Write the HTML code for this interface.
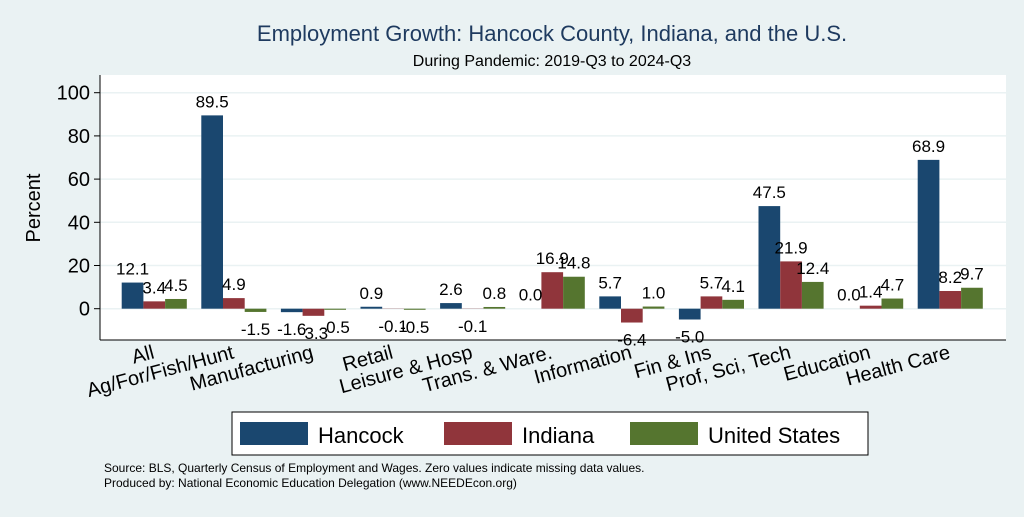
<!DOCTYPE html>
<html><head><meta charset="utf-8"><style>
body{margin:0;background:#eaf2f3;font-family:"Liberation Sans",sans-serif}
svg text{font-family:"Liberation Sans",sans-serif}
</style></head><body>
<svg id="c" width="1024" height="512" xmlns="http://www.w3.org/2000/svg">
<rect width="1024" height="512" fill="#eaf2f3"/>
<text x="552" y="41" font-size="22" fill="#1e3a5f" text-anchor="middle">Employment Growth: Hancock County, Indiana, and the U.S.</text>
<text x="552" y="66" font-size="16" fill="#000" text-anchor="middle">During Pandemic: 2019-Q3 to 2024-Q3</text>
<rect x="100" y="75" width="906" height="265" fill="#fff"/>
<g id="grid"></g><g id="bars"></g><g id="labels"></g><g id="axes"></g>
<text transform="translate(40,208) rotate(-90)" font-size="20" text-anchor="middle">Percent</text>
<g>
<rect x="232" y="412" width="636" height="43" fill="#fff" stroke="#000" stroke-width="1"/>
<rect x="240" y="422" width="68" height="23" fill="#1a476f"/>
<text x="318" y="443" font-size="22">Hancock</text>
<rect x="444" y="422" width="68" height="23" fill="#90353b"/>
<text x="522" y="443" font-size="22">Indiana</text>
<rect x="630" y="422" width="68" height="23" fill="#55752f"/>
<text x="708" y="443" font-size="22">United States</text>
</g>
<text x="104" y="472" font-size="12">Source: BLS, Quarterly Census of Employment and Wages. Zero values indicate missing data values.</text>
<text x="104" y="487" font-size="12">Produced by: National Economic Education Delegation (www.NEEDEcon.org)</text>
</svg>
<script>
const categories=["All","Ag/For/Fish/Hunt","Manufacturing","Retail","Leisure & Hosp","Trans. & Ware.","Information","Fin & Ins","Prof, Sci, Tech","Education","Health Care"];
const hancock=[12.1,89.5,-1.6,0.9,2.6,0.0,5.7,-5.0,47.5,0.0,68.9];
const indiana=[3.4,4.9,-3.3,-0.1,-0.1,16.9,-6.4,5.7,21.9,1.4,8.2];
const unitedStates=[4.5,-1.5,-0.5,-0.5,0.8,14.8,1.0,4.1,12.4,4.7,9.7];
const yTicks=[0,20,40,60,80,100];
const NS="http://www.w3.org/2000/svg";
const y=v=>308.7-v*2.16;
const gx=i=>121.7+i*79.6;
const bw=21.7;
function mk(t,a,p){const e=document.createElementNS(NS,t);for(const k in a)e.setAttribute(k,a[k]);p.appendChild(e);return e;}
const grid=document.getElementById('grid'),bars=document.getElementById('bars'),labels=document.getElementById('labels'),axes=document.getElementById('axes');
yTicks.forEach(t=>{
 const l=mk('line',{x1:100,x2:1006,y1:y(t),y2:y(t),stroke:'#eaf2f3','stroke-width':1.5},grid);
 
 
 const tk=mk('line',{x1:94,x2:100,y1:y(t),y2:y(t),stroke:'#000'},axes);
 
 
 const tx=mk('text',{x:90,y:y(t)+7,'font-size':20,'text-anchor':'end'},axes);
 tx.textContent=t;
 
 
});
mk('line',{x1:100,x2:100,y1:75,y2:340,stroke:'#000'},axes);
mk('line',{x1:100,x2:1006,y1:340,y2:340,stroke:'#000'},axes);
const series=[[hancock,'#1a476f','hancock'],[indiana,'#90353b','indiana'],[unitedStates,'#55752f','us']];
categories.forEach((c,i)=>{
 series.forEach(([arr,col,nm],s)=>{
  const v=arr[i],x=gx(i)+s*bw;
  const r=mk('rect',{x:x,y:Math.min(y(v),y(0)),width:bw,height:Math.abs(y(v)-y(0)),fill:col},bars);
  
  
  const t=mk('text',{x:x+bw/2,y:v>=0?y(v)-8:y(v)+23,'font-size':17,'text-anchor':'middle'},labels);
  t.textContent=v.toFixed(1);
  
  
 });
 const cx=gx(i)+bw*1.5+1, cy=358;
 const ct=mk('text',{x:cx,y:cy,'font-size':20,'text-anchor':'end',transform:`rotate(-15 ${cx} ${cy})`},axes);
 ct.textContent=c;
 
 
});
</script>
</body></html>
